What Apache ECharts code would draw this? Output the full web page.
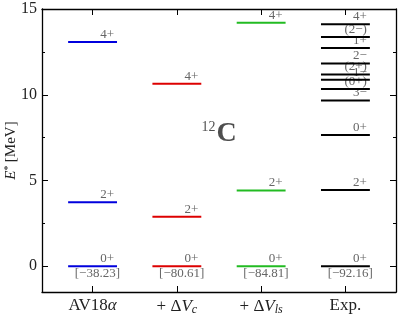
<!DOCTYPE html>
<html><head><meta charset="utf-8">
<script src="https://cdn.jsdelivr.net/npm/echarts@6/dist/echarts.min.js"></script>
<style>html,body{margin:0;padding:0;background:#fff}#c{width:399px;height:315px}</style>
</head><body><div id="c"></div>
<script>
const categories = ['AV18α', '+ ΔVc', '+ ΔVls', 'Exp.'];
const av18Levels = [0, 3.74, 13.08];
const av18Labels = ['0+', '2+', '4+'];
const vcLevels = [0, 2.89, 10.64];
const vcLabels = ['0+', '2+', '4+'];
const vlsLevels = [0, 4.42, 14.2];
const vlsLabels = ['0+', '2+', '4+'];
const expLevels = [0, 4.44, 7.65, 9.67, 10.33, 10.88, 11.18, 11.82, 12.72, 13.37, 14.11];
const expLabels = ['0+', '2+', '0+', '3\u2212', '(0+)', '1\u2212', '(2+)', '2\u2212', '1+', '(2\u2212)', '4+'];
const groundEnergies = ['[\u221238.23]', '[\u221280.61]', '[\u221284.81]', '[\u221292.16]'];
const yMajorTicks = [0, 5, 10, 15];
const yMinorTicks = [2.5, 7.5, 12.5];
const xTicks = [0, 1, 2, 3];

const FONT = 'Liberation Serif';
const HALF = 0.29;

function levelSeries(xi, levels, labels, color) {
  return {
    type: 'custom',
    xAxisIndex: 0, yAxisIndex: 0,
    data: levels.map(v => [xi, v]),
    renderItem: function (params, api) {
      const x = api.value(0), y = api.value(1);
      const p1 = api.coord([x - HALF, y]);
      const p2 = api.coord([x + HALF, y]);
      const children = [
        {type: 'line', shape: {x1: p1[0], y1: p1[1], x2: p2[0], y2: p2[1]}, style: {stroke: color, lineWidth: 2}},
        {type: 'text', style: {text: labels[params.dataIndex], x: p2[0] - 3, y: p1[1] - 1, align: 'right', verticalAlign: 'bottom', fill: '#666', font: '13px "' + FONT + '"'}}
      ];
      if (params.dataIndex === 0) {
        children.push({type: 'text', style: {text: groundEnergies[xi], x: p2[0] + 3, y: p1[1] + 1, align: 'right', verticalAlign: 'top', fill: '#666', font: '13px "' + FONT + '"'}});
      }
      return {type: 'group', children: children};
    }
  };
}

const xLabelRich = {
  n: {fontFamily: FONT, fontSize: 17, color: '#222'},
  i: {fontFamily: FONT, fontSize: 17, fontStyle: 'italic', color: '#222'},
  s: {fontFamily: FONT, fontSize: 12, fontStyle: 'italic', color: '#222', padding: [7, 0, 0, 0]}
};
const xLabelText = ['{n|AV18}{i|α}', '{n|+ Δ}{i|V}{s|c}', '{n|+ Δ}{i|V}{s|ls}', '{n|Exp.}'];

const chart = echarts.init(document.getElementById('c'), null, {renderer: 'canvas'});
const axisLineStyle = {color: '#000', width: 1.3};
chart.setOption({
  animation: false,
  grid: {left: 42, right: 3, top: 9, bottom: 23, containLabel: false, outerBoundsMode: 'none'},
  xAxis: [
    {type: 'value', position: 'bottom', min: -0.6, max: 3.6,
     axisLine: {show: true, onZero: false, lineStyle: axisLineStyle},
     axisTick: {show: true, inside: true, length: 6, customValues: xTicks, lineStyle: {color: '#000'}},
     axisLabel: {show: true, customValues: xTicks, margin: 5, formatter: v => xLabelText[Math.round(v)], rich: xLabelRich},
     splitLine: {show: false}},
    {type: 'value', position: 'top', min: -0.6, max: 3.6,
     axisLine: {show: true, onZero: false, lineStyle: axisLineStyle},
     axisTick: {show: true, inside: true, length: 6, customValues: xTicks, lineStyle: {color: '#000'}},
     axisLabel: {show: false}, splitLine: {show: false}}
  ],
  yAxis: [
    {type: 'value', position: 'left', min: -1.5, max: 15,
     axisLine: {show: true, onZero: false, lineStyle: axisLineStyle},
     axisTick: {show: true, inside: true, length: 6, customValues: yMajorTicks, lineStyle: {color: '#000'}},
     axisLabel: {show: true, customValues: yMajorTicks, fontFamily: FONT, fontSize: 16, color: '#222', margin: 5},
     splitLine: {show: false},
     name: '{i|E}{sup|*} {n|[MeV]}', nameLocation: 'middle', nameGap: 23, nameRotate: 90, nameMoveOverlap: false,
     nameTextStyle: {rich: {
       i: {fontFamily: FONT, fontSize: 15, fontStyle: 'italic', color: '#222'},
       sup: {fontFamily: FONT, fontSize: 10, color: '#222', padding: [0, 0, 6, 0]},
       n: {fontFamily: FONT, fontSize: 15, color: '#222'}
     }}},
    {type: 'value', position: 'left', min: -1.5, max: 15,
     axisLine: {show: false, onZero: false},
     axisTick: {show: true, inside: true, length: 3, customValues: yMinorTicks, lineStyle: {color: '#000'}},
     axisLabel: {show: false}, splitLine: {show: false}},
    {type: 'value', position: 'right', min: -1.5, max: 15,
     axisLine: {show: true, onZero: false, lineStyle: axisLineStyle},
     axisTick: {show: true, inside: true, length: 6, customValues: yMajorTicks, lineStyle: {color: '#000'}},
     axisLabel: {show: false}, splitLine: {show: false}},
    {type: 'value', position: 'right', min: -1.5, max: 15,
     axisLine: {show: false, onZero: false},
     axisTick: {show: true, inside: true, length: 3, customValues: yMinorTicks, lineStyle: {color: '#000'}},
     axisLabel: {show: false}, splitLine: {show: false}}
  ],
  series: [
    levelSeries(0, av18Levels, av18Labels, '#0000dd'),
    levelSeries(1, vcLevels, vcLabels, '#dd0000'),
    levelSeries(2, vlsLevels, vlsLabels, '#22bb22'),
    levelSeries(3, expLevels, expLabels, '#000000'),
    {type: 'scatter', xAxisIndex: 0, yAxisIndex: 0, symbolSize: 0, data: [[1.5, 7.75]],
     label: {show: true, position: 'inside', formatter: '{sup|12}{c|C}',
       rich: {
         sup: {fontFamily: FONT, fontSize: 14, color: '#222', padding: [0, 1, 12, 0]},
         c: {fontFamily: FONT, fontSize: 28, fontWeight: 'bold', color: '#222'}
       }}}
  ]
});
</script></body></html>
